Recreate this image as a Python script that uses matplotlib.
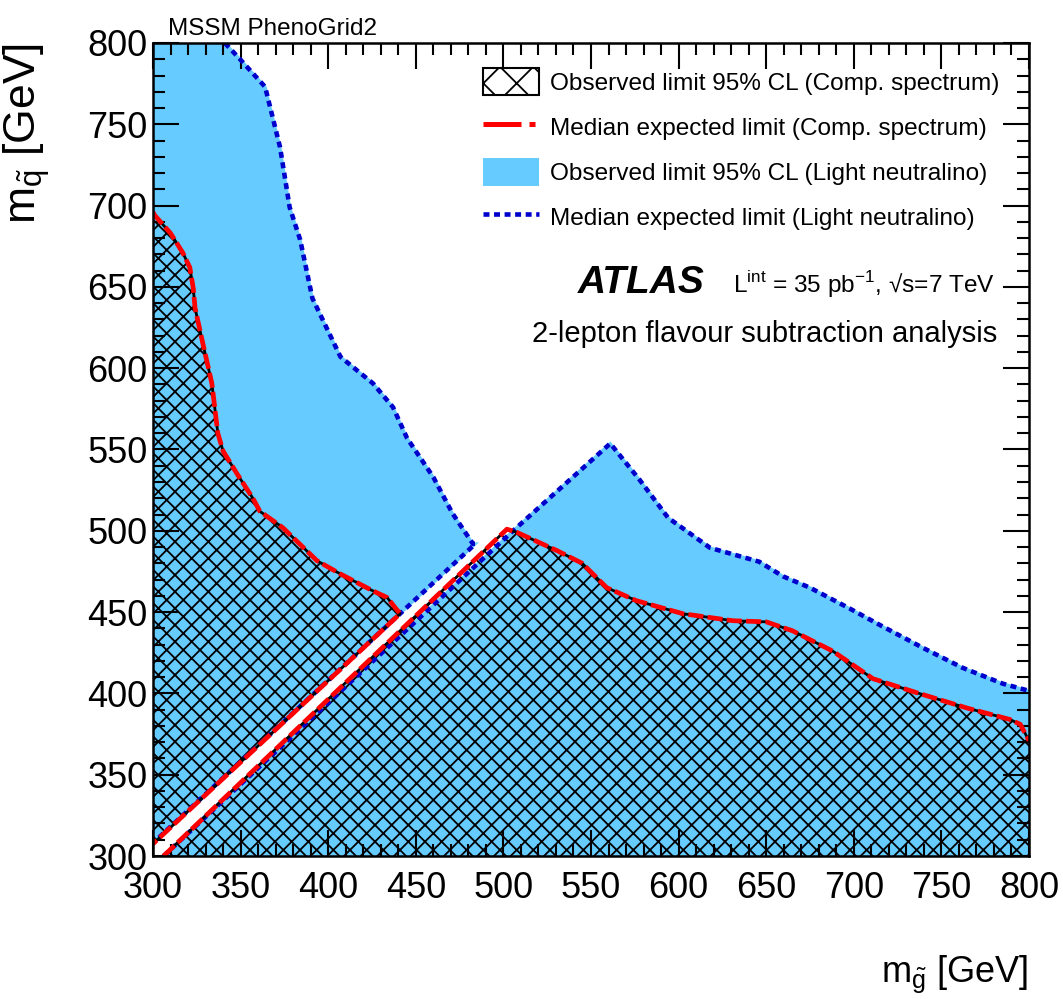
import matplotlib
matplotlib.use("Agg")
import matplotlib.pyplot as plt
from matplotlib.lines import Line2D
from matplotlib.patches import Patch
from matplotlib.ticker import MultipleLocator

plt.rcParams['font.family'] = ['Liberation Sans', 'DejaVu Sans']
plt.rcParams['mathtext.fontset'] = 'custom'
plt.rcParams['mathtext.rm'] = 'Liberation Sans'
plt.rcParams['hatch.linewidth'] = 1.3

# axis ranges (GeV)
x_range = (300, 800)
y_range = (300, 800)

# comp. spectrum, observed 95% CL limit: piece above the diagonal
# (curve from the left edge, then back down along the diagonal)
obs_comp_left_x = [300, 301, 310, 317, 321, 323, 324, 328.5, 333.6, 337, 340, 348, 357, 361,
                   374, 393.6, 406.7, 425.6, 433.6, 441, 437, 300]
obs_comp_left_y = [696, 694, 683, 671, 662, 649, 637, 615, 590.6, 560, 549, 535, 520, 512,
                   502, 481.6, 473.6, 463, 459, 449, 445, 307.5]
# piece below the diagonal (diagonal up to the peak, then curve to the right edge)
obs_comp_right_x = [306, 502, 507.8, 530.6, 545, 559, 576, 602.5, 631, 650, 665, 688, 711,
                    736, 764.6, 789, 795, 800]
obs_comp_right_y = [300, 501, 499, 487.8, 480, 465, 457, 449, 444.7, 444, 438.5, 426, 409,
                    400.4, 391, 384, 381, 371]

# comp. spectrum, median expected (lies on top of the observed contour)
exp_comp_left_x, exp_comp_left_y = obs_comp_left_x, obs_comp_left_y
exp_comp_right_x, exp_comp_right_y = obs_comp_right_x, obs_comp_right_y

# light neutralino, median expected
exp_ln_left_x = [341, 349.7, 364, 372.5, 378, 384, 391, 407, 425.6, 437, 445, 460, 471,
                 482.6, 484, 300]
exp_ln_left_y = [800, 790, 773, 736, 699, 679, 643, 607, 590.6, 576, 557, 533, 510.6,
                 492, 492, 308]
exp_ln_right_x = [306, 505.5, 561, 578, 594, 618, 646, 659.6, 675, 698, 715, 739.5, 762,
                  785, 800]
exp_ln_right_y = [300, 500, 553.7, 531, 508, 489.5, 481, 472, 465, 452, 442, 428, 415.8,
                  406, 401.6]

# light neutralino, observed 95% CL (filled area, same contour as expected here)
obs_ln_left_x, obs_ln_left_y = exp_ln_left_x, exp_ln_left_y
obs_ln_right_x, obs_ln_right_y = exp_ln_right_x, exp_ln_right_y

legend_labels = ["Observed limit 95% CL (Comp. spectrum)",
                 "Median expected limit (Comp. spectrum)",
                 "Observed limit 95% CL (Light neutralino)",
                 "Median expected limit (Light neutralino)"]

W, H = 1063, 999
fig = plt.figure(figsize=(W / 100, H / 100), dpi=100)
ax = fig.add_axes([153 / W, 1 - 856 / H, 876 / W, 813 / H])

lightblue = '#66CCFF'
darkblue = '#0000CC'

# blue filled regions (light neutralino observed)
ax.fill(obs_ln_left_x + [x_range[0]], obs_ln_left_y + [y_range[1]],
        color=lightblue, lw=2, zorder=1)
ax.fill(obs_ln_right_x + [x_range[1]], obs_ln_right_y + [y_range[0]],
        color=lightblue, lw=2, zorder=1)

# hatched regions (comp. spectrum observed)
ax.fill(obs_comp_left_x, obs_comp_left_y, facecolor='none', edgecolor='black',
        hatch='xx', lw=0, zorder=2)
ax.fill(obs_comp_right_x + [x_range[1]], obs_comp_right_y + [y_range[0]],
        facecolor='none', edgecolor='black', hatch='xx', lw=0, zorder=2)

# light neutralino expected (dotted)
for xs, ys in [(exp_ln_left_x, exp_ln_left_y), (exp_ln_right_x, exp_ln_right_y)]:
    ax.plot(xs, ys, color=darkblue, lw=3.3, dashes=(1.3, 1.0),
            dash_capstyle='butt', zorder=3)

# comp. spectrum observed (black) and expected (red dashed)
for xs, ys in [(obs_comp_left_x, obs_comp_left_y), (obs_comp_right_x, obs_comp_right_y)]:
    ax.plot(xs, ys, color='black', lw=2.0, zorder=4)
for xs, ys in [(exp_comp_left_x, exp_comp_left_y), (exp_comp_right_x, exp_comp_right_y)]:
    ax.plot(xs, ys, color='red', lw=3.4, dashes=(3.2, 0.9), dash_capstyle='butt', zorder=5)

ax.set_xlim(*x_range)
ax.set_ylim(*y_range)
for a in (ax.xaxis, ax.yaxis):
    a.set_major_locator(MultipleLocator(50))
    a.set_minor_locator(MultipleLocator(10))
ax.tick_params(which='both', direction='in', top=True, right=True, width=1.5, color='black')
ax.tick_params(which='major', length=18.5, labelsize=26)
ax.tick_params(which='minor', length=8.5)
ax.tick_params(axis='x', which='major', pad=11)
ax.tick_params(axis='y', which='major', pad=4)
for s in ax.spines.values():
    s.set_linewidth(1.8)
    s.set_zorder(6)

# legend
handles = [
    Patch(facecolor='white', edgecolor='black', hatch='x', lw=1.5),
    Line2D([], [], color='red', lw=3.6, dashes=(7.6, 1.6, 1.2, 5.0), dash_capstyle='butt'),
    Patch(facecolor=lightblue, edgecolor='none'),
    Line2D([], [], color=darkblue, lw=3.3, dashes=(1.3, 1.0), dash_capstyle='butt'),
]
fig.legend(handles, legend_labels, loc='upper left', bbox_to_anchor=(483 / W, 1 - 68 / H),
           frameon=False, fontsize=17.6, handlelength=2.3, handleheight=1.35,
           handletextpad=0.45, labelspacing=0.72, borderpad=0, borderaxespad=0)

fig.text(168 / W, 1 - 35 / H, "MSSM PhenoGrid2", fontsize=17.5, ha='left', va='baseline')
fig.text(578 / W, 1 - 293 / H, "ATLAS", fontsize=28, weight='bold', style='italic',
         ha='left', va='baseline')
fig.text(733 / W, 1 - 293 / H, r"L$^{\mathregular{int}}$ = 35 pb$^{\mathregular{-1}}$, √s=7 TeV",
         fontsize=17.6, ha='left', va='baseline')
fig.text(997 / W, 1 - 342 / H, "2-lepton flavour subtraction analysis", fontsize=21,
         ha='right', va='baseline')

# axis titles
fig.text(1028 / W, 1 - 982 / H, r"m$_{\mathregular{\tilde{g}}}$ [GeV]", fontsize=26,
         ha='right', va='baseline')
fig.text(27 / W, 1 - 43 / H, r"m$_{\mathregular{\tilde{q}}}$ [GeV]", fontsize=32,
         rotation=90, ha='center', va='top')

fig.savefig("out.png", dpi=100)
